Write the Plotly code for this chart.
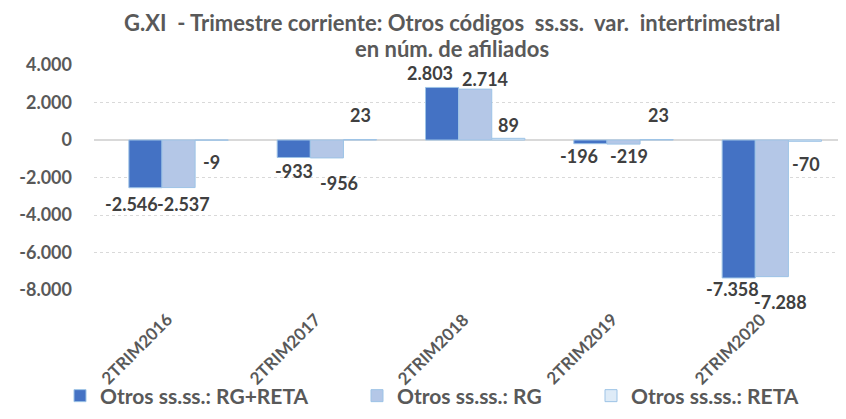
import plotly.graph_objects as go

categories = ["2TRIM2016", "2TRIM2017", "2TRIM2018", "2TRIM2019", "2TRIM2020"]
rg_reta = [-2546, -933, 2803, -196, -7358]
rg = [-2537, -956, 2714, -219, -7288]
reta = [-9, 23, 89, 23, -70]
series_names = ["Otros ss.ss.: RG+RETA", "Otros ss.ss.: RG", "Otros ss.ss.: RETA"]
y_ticks = [-8000, -6000, -4000, -2000, 0, 2000, 4000]
title_lines = ["G.XI\u00a0 - Trimestre corriente: Otros códigos\u00a0 ss.ss.\u00a0 var.\u00a0 intertrimestral",
               "en núm. de afiliados"]

# label nudges in pixels (dx right, dy down from the bar end), per series
label_dx = [[-13.5, 0, -12.5, -11.5, -6], [5, 12, 9.5, 5.5, 9], [0, 0, 0, 2, 1]]
label_dy = [[17, 14.5, -13, 13, 12.5], [17, 26, -9, 13, 26], [23, -23.6, -12, -23.6, 24]]


def fmt(v):
    return f"{v:,}".replace(",", ".")


FONT = "Lato"
fills = ["#4472C4", "#B4C7E7", "#DEEBF7"]
legends = ["legend", "legend2", "legend3"]
BARGAP = 0.33
bar_w = (1 - BARGAP) / 3

fig = go.Figure()
all_series = [rg_reta, rg, reta]
for vals, name, col, lg in zip(all_series, series_names, fills, legends):
    fig.add_trace(go.Bar(
        x=categories, y=vals, name=name,
        marker=dict(color=col, line=dict(color="#9DC3E6", width=1)),
        legend=lg,
    ))

# data labels
for k, vals in enumerate(all_series):
    for i, v in enumerate(vals):
        fig.add_annotation(
            text=fmt(v), xref="x", yref="y", x=i + (k - 1) * bar_w, y=v,
            xshift=label_dx[k][i], yshift=-label_dy[k][i] + 1,
            xanchor="center", yanchor="middle", showarrow=False,
            font=dict(family=FONT, size=18, color="#404040", weight="bold"),
        )

# page has an 8px body margin; plot area in screenshot: x 94..846, y 65..290
def py(pix):
    return 1 + (65 - pix) / 225

def px(pix):
    return (pix - 94) / 752

for line, ypix in zip(title_lines, [22.5, 48.5]):
    fig.add_annotation(
        text=line, xref="paper", yref="paper", x=px(451.5), y=py(ypix),
        xanchor="center", yanchor="middle", showarrow=False, borderpad=0,
        font=dict(family=FONT, size=22, color="#595959", weight="bold"),
    )

for cat in categories:
    fig.add_annotation(
        text=cat, xref="x", yref="paper", x=cat, y=py(306), xshift=1,
        xanchor="right", yanchor="top", textangle=-45, showarrow=False,
        font=dict(family=FONT, size=17, color="#595959", weight="bold"),
    )

fig.update_layout(
    width=838, height=411,
    margin=dict(l=86, r=0, t=57, b=129, autoexpand=False),
    paper_bgcolor="white", plot_bgcolor="white",
    barmode="group", bargap=BARGAP, bargroupgap=0,
    font=dict(family=FONT, color="#595959"),
    xaxis=dict(
        showticklabels=False, showgrid=False, showline=False, ticks="",
        automargin=False,
    ),
    yaxis=dict(
        range=[-8000, 4000], tickvals=y_ticks, ticktext=[fmt(v) for v in y_ticks],
        showgrid=True, gridcolor="#D9D9D9", griddash="dot", gridwidth=1,
        zeroline=True, zerolinecolor="#D9D9D9", zerolinewidth=2,
        showline=False, ticks="", automargin=False,
        tickfont=dict(family=FONT, size=18, color="#595959", weight="bold"),
        ticklabelstandoff=21,
    ),
    showlegend=True,
)

leg_x = [px(60), px(357), px(591)]
for lg, lx in zip(legends, leg_x):
    fig.update_layout({lg: dict(
        orientation="h", x=lx, xanchor="left", y=py(396), yanchor="middle",
        font=dict(family=FONT, size=21, color="#595959", weight="bold"),
        bgcolor="rgba(0,0,0,0)",
    )})

fig.write_html("out.html")
